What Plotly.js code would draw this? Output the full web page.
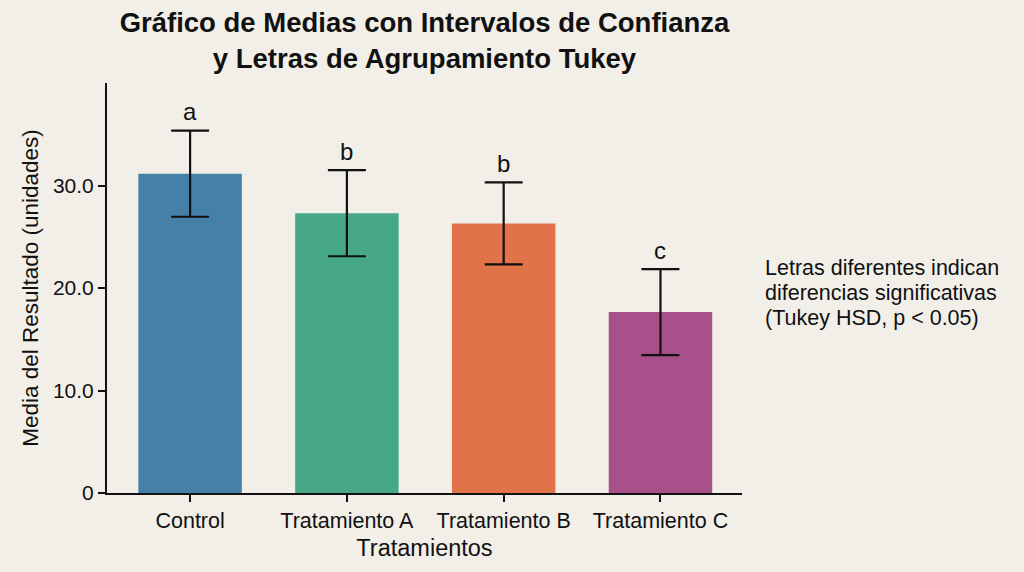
<!DOCTYPE html>
<html>
<head>
<meta charset="utf-8">
<script src="https://cdn.plot.ly/plotly-3.0.1.min.js"></script>
<style>html,body{margin:0;padding:0;background:#f2efe9;}</style>
</head>
<body>
<div id="chart" style="width:1024px;height:572px;"></div>
<script>
const categories = ["Control", "Tratamiento A", "Tratamiento B", "Tratamiento C"];
const means = [31.15, 27.3, 26.3, 17.65];
const ciHalf = [4.2, 4.2, 4.0, 4.2];
const tukeyLetters = ["a", "b", "b", "c"];
const barColors = ["#4580a9", "#47a888", "#e0734a", "#a8508a"];
const yTickVals = [0, 10, 20, 30];
const yTickText = ["0", "10.0", "20.0", "30.0"];
const noteLines = ["Letras diferentes indican", "diferencias significativas", "(Tukey HSD, p < 0.05)"];

const FONT = "Liberation Sans, Arial, sans-serif";

const trace = {
  type: "bar",
  x: categories,
  y: means,
  width: 0.66,
  marker: {color: barColors, line: {width: 0}},
  error_y: {type: "data", array: ciHalf, visible: true, color: "#111111", thickness: 2.2, width: 19},
  hoverinfo: "x+y"
};

const letterAnnotations = categories.map((c, i) => ({
  x: c, y: means[i] + ciHalf[i], xref: "x", yref: "y",
  text: tukeyLetters[i], showarrow: false,
  yanchor: "middle", yshift: 19,
  font: {family: FONT, size: 24, color: "#111111"}
}));

const noteYs = [0.549, 0.488, 0.427];
const noteAnnotations = noteLines.map((t, i) => ({
  xref: "paper", yref: "paper", x: 1.033, y: noteYs[i],
  xanchor: "left", yanchor: "middle", align: "left", showarrow: false,
  text: t,
  font: {family: FONT, size: 21.5, color: "#111111"}
}));

const layout = {
  width: 1024, height: 572,
  paper_bgcolor: "#f2efe9", plot_bgcolor: "#f2efe9",
  margin: {l: 107, r: 282, t: 83, b: 79},
  showlegend: false,
  font: {family: FONT, color: "#111111"},
  title: {
    text: "<b>Gráfico de Medias con Intervalos de Confianza<br>y Letras de Agrupamiento Tukey</b>",
    x: 0.5, xref: "paper", xanchor: "center", y: 0.944, yref: "container", yanchor: "middle",
    font: {family: FONT, size: 27.5, color: "#111111"}
  },
  xaxis: {
    type: "category", range: [-0.53, 3.52],
    showline: true, linecolor: "#111111", linewidth: 2,
    ticks: "outside", ticklen: 7, tickwidth: 2, tickcolor: "#111111",
    showgrid: false, zeroline: false,
    tickfont: {size: 21.5, color: "#111111"},
    title: {text: "Tratamientos", font: {size: 23.5, color: "#111111"}, standoff: 8}
  },
  yaxis: {
    range: [0, 40], tickvals: yTickVals, ticktext: yTickText,
    showline: true, linecolor: "#111111", linewidth: 2,
    ticks: "outside", ticklen: 7, tickwidth: 2, tickcolor: "#111111",
    showgrid: false, zeroline: false,
    tickfont: {size: 21, color: "#111111"},
    title: {text: "Media del Resultado (unidades)", font: {size: 22.5, color: "#111111"}, standoff: 8}
  },
  annotations: letterAnnotations.concat(noteAnnotations)
};

Plotly.newPlot("chart", [trace], layout, {displayModeBar: false, staticPlot: true});
</script>
</body>
</html>
